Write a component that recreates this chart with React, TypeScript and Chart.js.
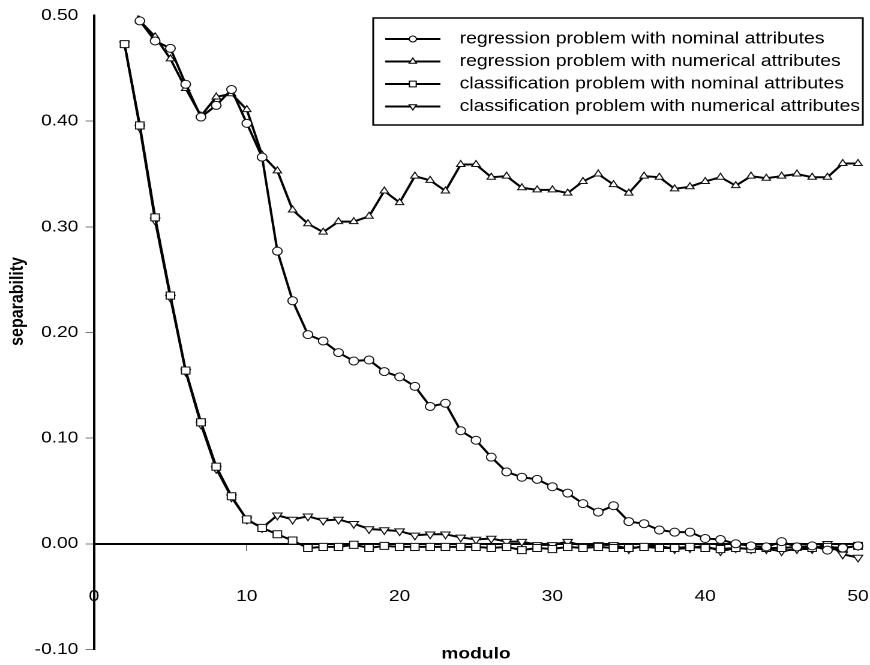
import React, { useEffect, useRef } from "react";
import { Chart, registerables } from "chart.js";
import { drawPoint } from "chart.js/helpers";

Chart.register(...registerables);

// ---- data ----
const moduli = [2, 3, 4, 5, 6, 7, 8, 9, 10, 11, 12, 13, 14, 15, 16, 17, 18, 19, 20, 21, 22, 23, 24, 25, 26,
  27, 28, 29, 30, 31, 32, 33, 34, 35, 36, 37, 38, 39, 40, 41, 42, 43, 44, 45, 46, 47, 48, 49, 50];

const regNominal = [0.54, 0.495, 0.476, 0.469, 0.435, 0.404, 0.415, 0.43, 0.398, 0.366, 0.277, 0.23, 0.198,
  0.192, 0.181, 0.173, 0.174, 0.163, 0.158, 0.149, 0.13, 0.133, 0.107, 0.098, 0.082, 0.068, 0.063, 0.061,
  0.054, 0.048, 0.038, 0.03, 0.036, 0.021, 0.019, 0.013, 0.011, 0.011, 0.005, 0.004, 0.0, -0.002, -0.003,
  0.002, -0.003, -0.002, -0.006, -0.004, -0.002];

const regNumerical = [0.54, 0.495, 0.48, 0.459, 0.431, 0.405, 0.423, 0.426, 0.411, 0.368, 0.353, 0.316, 0.303,
  0.295, 0.305, 0.305, 0.31, 0.334, 0.323, 0.348, 0.344, 0.334, 0.359, 0.359, 0.347, 0.348, 0.337, 0.335,
  0.335, 0.332, 0.343, 0.35, 0.34, 0.332, 0.348, 0.347, 0.336, 0.338, 0.343, 0.347, 0.339, 0.348, 0.346,
  0.348, 0.35, 0.347, 0.347, 0.36, 0.36];

const clsNominal = [0.473, 0.396, 0.309, 0.235, 0.164, 0.115, 0.073, 0.045, 0.023, 0.015, 0.009, 0.003, -0.004,
  -0.003, -0.003, -0.001, -0.004, -0.002, -0.003, -0.003, -0.003, -0.003, -0.003, -0.003, -0.004, -0.003,
  -0.006, -0.004, -0.005, -0.003, -0.004, -0.003, -0.004, -0.004, -0.003, -0.004, -0.004, -0.003, -0.004,
  -0.005, -0.004, -0.005, -0.004, -0.004, -0.003, -0.004, -0.003, -0.004, -0.002];

const clsNumerical = [0.473, 0.394, 0.306, 0.233, 0.163, 0.113, 0.071, 0.044, 0.023, 0.015, 0.027, 0.023, 0.026,
  0.022, 0.023, 0.019, 0.014, 0.013, 0.012, 0.008, 0.009, 0.009, 0.006, 0.004, 0.005, 0.002, 0.002, -0.001,
  -0.001, 0.002, -0.002, -0.001, -0.001, -0.005, -0.002, -0.002, -0.005, -0.004, -0.002, -0.007, -0.004,
  -0.005, -0.005, -0.007, -0.005, -0.005, 0.0, -0.01, -0.013];

const seriesLabels = [
  "regression problem with nominal attributes",
  "regression problem with numerical attributes",
  "classification problem with nominal attributes",
  "classification problem with numerical attributes",
];

const xTitle = "modulo";
const yTitle = "separability";

// ---- styling ----
const FONT = '"Liberation Sans", Arial, Helvetica, sans-serif';
const LOGICAL_W = 725;
const LOGICAL_H = 665;

const toPoints = (vals: number[]) => moduli.map((m, i) => ({ x: m, y: vals[i] }));

const legendPlugin = {
  id: "boxLegend",
  afterDraw(chart: any) {
    const ctx = chart.ctx as CanvasRenderingContext2D;
    ctx.save();
    const bx0 = 311, by0 = 18, bx1 = 719, by1 = 125;
    ctx.lineWidth = 1.5;
    ctx.strokeStyle = "#000";
    ctx.strokeRect(bx0, by0, bx1 - bx0, by1 - by0);
    const rows = [39, 61.5, 84, 106.5];
    const sizes = [3, 3.5, 4, 3.5];
    chart.data.datasets.forEach((ds: any, i: number) => {
      const y = rows[i];
      ctx.beginPath();
      ctx.lineWidth = 2;
      ctx.strokeStyle = "#000";
      ctx.moveTo(321, y);
      ctx.lineTo(367, y);
      ctx.stroke();
      ctx.fillStyle = "#fff";
      ctx.strokeStyle = "#000";
      ctx.lineWidth = 1;
      drawPoint(ctx, { pointStyle: ds.pointStyle, radius: sizes[i], rotation: ds.pointRotation || 0, borderWidth: 1 } as any, 344, y);
      ctx.fillStyle = "#000";
      ctx.font = `16.2px ${FONT}`;
      ctx.textBaseline = "middle";
      ctx.textAlign = "left";
      ctx.fillText(ds.label, 383, y);
    });
    ctx.restore();
  },
};

function makeDataset(label: string, vals: number[], style: string, radius: number, rotation = 0) {
  return {
    label,
    data: toPoints(vals),
    borderColor: "#000",
    borderWidth: 2,
    pointStyle: style,
    pointRadius: radius,
    pointRotation: rotation,
    pointBackgroundColor: "#fff",
    pointBorderColor: "#111",
    pointBorderWidth: 1,
    tension: 0,
    clip: { left: 10, top: 0, right: 10, bottom: 10 },
  };
}

export default function App() {
  const ref = useRef<HTMLCanvasElement>(null);

  useEffect(() => {
    if (!ref.current) return;
    Chart.defaults.font.family = FONT;
    Chart.defaults.color = "#000";
    const chart = new Chart(ref.current, {
      type: "line",
      data: {
        datasets: [
          makeDataset(seriesLabels[0], regNominal, "circle", 4),
          makeDataset(seriesLabels[1], regNumerical, "triangle", 4),
          makeDataset(seriesLabels[2], clsNominal, "rect", 5),
          makeDataset(seriesLabels[3], clsNumerical, "triangle", 4.5, 180),
        ] as any,
      },
      options: {
        responsive: false,
        animation: false,
        devicePixelRatio: 2,
        layout: { padding: { left: 0, right: 10, top: 13, bottom: 13 } },
        plugins: { legend: { display: false }, tooltip: { enabled: false } },
        scales: {
          x: {
            type: "linear",
            min: 0,
            max: 50,
            position: { y: 0 } as any,
            afterFit: (s: any) => {
              s.height = 120;
              s.paddingLeft = 0;
              s.paddingRight = 0;
            },
            grid: {
              drawOnChartArea: false,
              drawTicks: true,
              tickLength: 6,
              tickColor: "#777",
              tickWidth: 1,
            },
            border: { display: true, color: "#000", width: 2 },
            ticks: {
              stepSize: 10,
              padding: 37,
              maxRotation: 0,
              autoSkip: false,
              color: "#000",
              font: { size: 16 },
            },
            title: {
              display: true,
              text: xTitle,
              color: "#000",
              font: { size: 16, weight: "bold" },
              padding: { top: 0, bottom: 0 },
            },
          },
          y: {
            type: "linear",
            min: -0.1,
            max: 0.5,
            position: "left",
            afterFit: (s: any) => {
              s.width = 78.33;
            },
            grid: {
              drawOnChartArea: false,
              drawTicks: true,
              tickLength: 7,
              tickColor: (c: any) => (c.tick && c.tick.value > 0.49 ? "rgba(0,0,0,0)" : "#777"),
              tickWidth: 1,
            },
            border: { display: true, color: "#000", width: 2 },
            ticks: {
              stepSize: 0.1,
              padding: 6,
              color: "#000",
              font: { size: 16 },
              callback: (v: any) => (Math.abs(Number(v)) < 1e-9 ? "0.00" : Number(v).toFixed(2)),
            },
            title: {
              display: true,
              text: "              " + yTitle,
              color: "#000",
              font: { size: 16, weight: "bold" },
              padding: { top: 5, bottom: 0 },
            },
          },
        },
      } as any,
      plugins: [legendPlugin],
    });
    return () => chart.destroy();
  }, []);

  return (
    <div style={{ position: "fixed", left: 0, top: 0, width: 870, height: 665, background: "#fff" }}>
      <canvas
        ref={ref}
        width={LOGICAL_W}
        height={LOGICAL_H}
        style={{ width: "870px", height: "665px", display: "block" }}
      />
    </div>
  );
}
